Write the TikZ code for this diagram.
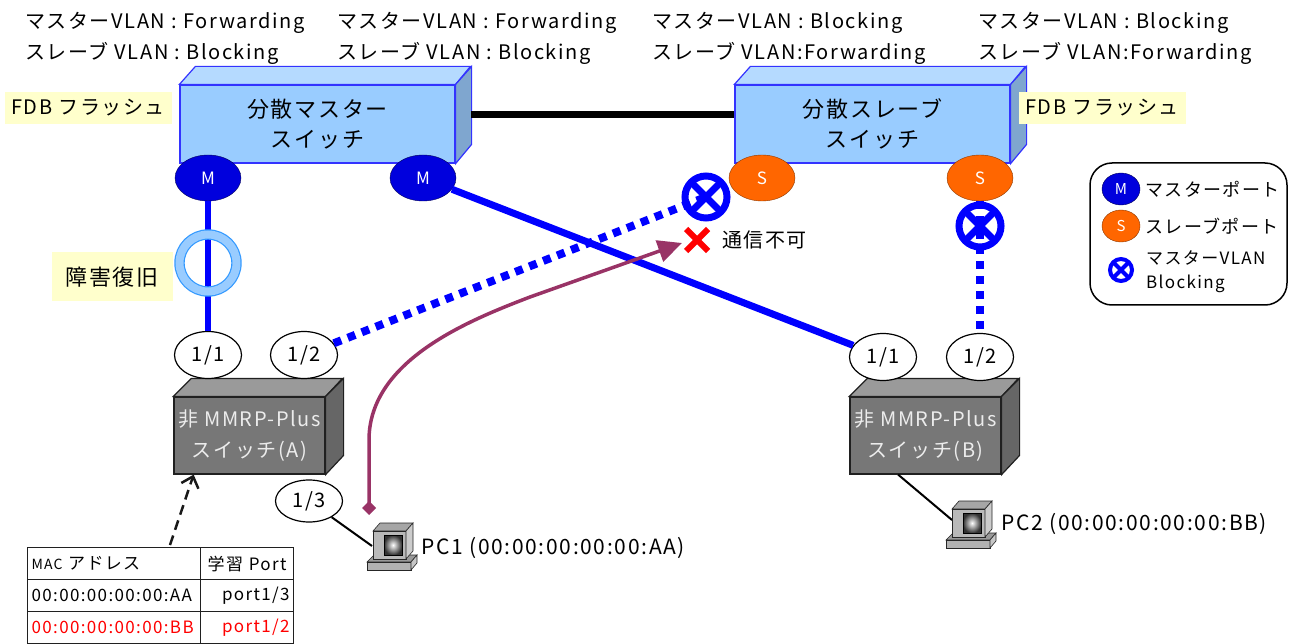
\documentclass[tikz,border=0pt]{standalone}
\usepackage{fontspec}
\setmainfont{Noto Sans CJK JP}[LetterSpace=8]
\usetikzlibrary{shapes.geometric,arrows.meta}

\definecolor{swfront}{HTML}{99CCFF}
\definecolor{swtop}{HTML}{B5DAFF}
\definecolor{swside}{HTML}{7FA6CF}
\definecolor{swline}{HTML}{3333FF}
\definecolor{gyfront}{HTML}{777777}
\definecolor{gytop}{HTML}{9A9A9A}
\definecolor{gyside}{HTML}{666666}
\definecolor{notebg}{HTML}{FFFFCC}
\definecolor{mblue}{HTML}{0000DD}
\definecolor{sorange}{HTML}{FF6600}
\definecolor{plum}{HTML}{993366}
\definecolor{ringblue}{HTML}{99CCFF}
\definecolor{ringedge}{HTML}{3399FF}

\tikzset{
  txt/.style={font=\fontsize{20}{31}\selectfont},
  mport/.style={ellipse,draw=blue!35!black,fill=mblue,text=white,minimum width=66pt,minimum height=46pt,inner sep=0pt,font=\fontsize{17}{17}\selectfont},
  sport/.style={ellipse,draw=sorange!55!black,fill=sorange,text=white,minimum width=66pt,minimum height=46pt,inner sep=0pt,font=\fontsize{17}{17}\selectfont},
  pnum/.style={ellipse,draw,fill=white,line width=1.2pt,minimum width=67pt,minimum height=47pt,inner sep=0pt,font=\fontsize{20}{20}\selectfont},
  blk/.style={circle,draw=blue,line width=#1,minimum size=42pt,inner sep=0pt,
    path picture={\draw[blue,line width=#1]
      (path picture bounding box.north west) -- (path picture bounding box.south east)
      (path picture bounding box.north east) -- (path picture bounding box.south west);}},
  blk/.default=7pt,
  note/.style={fill=notebg,inner sep=0pt,font=\fontsize{20}{20}\selectfont},
  swbox/.style={rectangle,draw=swline,fill=swfront,line width=1.2pt,minimum width=275pt,minimum height=78pt,align=center,font=\fontsize{22}{30}\selectfont},
  nmbox/.style={rectangle,draw=gray!25!black,fill=gyfront,text=gray!15,line width=1.2pt,minimum width=151pt,minimum height=77pt,align=center,font=\fontsize{20}{31}\selectfont},
  mline/.style={blue,line width=7pt},
  bline/.style={blue,line width=8pt,dash pattern=on 8pt off 7pt},
  cell/.style={draw=gray!25!black,line width=1.2pt,anchor=north west,minimum height=32pt,inner xsep=4pt,inner ysep=0pt,font=\fontsize{17}{17}\selectfont},
  pcbox/.pic={
    \filldraw[draw=gray!30!black,fill=gray!80,line width=0.6pt] (0,40) -- (7,33) -- (50,33) -- (44,40) -- cycle;
    \filldraw[draw=gray!30!black,fill=gray!60,line width=0.6pt] (0,40) rectangle (44,48);
    \filldraw[draw=gray!30!black,fill=gray!45,line width=0.6pt] (44,40) -- (50,33) -- (50,41) -- (44,48) -- cycle;
    \filldraw[draw=gray!30!black,fill=gray!70,line width=0.6pt] (6,9) -- (13,1) -- (46,1) -- (39,9) -- cycle;
    \filldraw[draw=gray!30!black,fill=gray!55,line width=0.6pt] (6,9) rectangle (39,37);
    \filldraw[draw=gray!30!black,fill=gray!40,line width=0.6pt] (39,9) -- (46,1) -- (46,29) -- (39,37) -- cycle;
    \draw[black,line width=0.8pt,inner color=white,outer color=gray!40!black] (17,13) rectangle (35,33);
  },
}

\begin{document}
\begin{tikzpicture}[x=1pt,y=-1pt]
\useasboundingbox (0,0) rectangle (1293,644);

\node[txt,anchor=west,align=left,inner sep=0pt] (st1) at (25,38) {マスターVLAN : Forwarding\\スレーブ VLAN : Blocking};
\node[txt,anchor=west,align=left,inner sep=0pt] (st2) at (337,38) {マスターVLAN : Forwarding\\スレーブ VLAN : Blocking};
\node[txt,anchor=west,align=left,inner sep=0pt] (st3) at (652,38) {マスターVLAN : Blocking\\スレーブ VLAN:Forwarding};
\node[txt,anchor=west,align=left,inner sep=0pt] (st4) at (978,38) {マスターVLAN : Blocking\\スレーブ VLAN:Forwarding};

% distributed master / slave
\node[swbox] (msw) at (317.5,124) {分散マスター\\スイッチ};
\filldraw[fill=swtop,draw=swline,line width=1.2pt] (msw.north west) -- ++(16,-18) -- ++(275,0) -- (msw.north east) -- cycle;
\filldraw[fill=swside,draw=swline,line width=1.2pt] (msw.north east) -- ++(16,-18) -- ++(0,78) -- (msw.south east) -- cycle;
\node[swbox] (ssw) at (872.5,124) {分散スレーブ\\スイッチ};
\filldraw[fill=swtop,draw=swline,line width=1.2pt] (ssw.north west) -- ++(16,-18) -- ++(275,0) -- (ssw.north east) -- cycle;
\filldraw[fill=swside,draw=swline,line width=1.2pt] (ssw.north east) -- ++(16,-18) -- ++(0,78) -- (ssw.south east) -- cycle;

\coordinate (mside) at (471,115);
\draw[line width=7pt] (mside) -- (mside -| ssw.west);

\node[note,minimum width=167pt,minimum height=32pt] (fdb1) at (88,108) {FDB フラッシュ};
\node[note,minimum width=167pt,minimum height=32pt] (fdb2) at (1102,108) {FDB フラッシュ};

\node[mport] (m1) at (208,178) {M};
\node[mport] (m2) at (423,178) {M};
\node[sport] (s1) at (762,178) {S};
\node[sport] (s2) at (980,178) {S};

% non MMRP-Plus switches
\node[nmbox] (swa) at (249.5,435.5) {非 MMRP-Plus\\スイッチ(A)};
\filldraw[fill=gytop,draw=gray!25!black,line width=1.2pt] (swa.north west) -- ++(18,-18) -- ++(151,0) -- (swa.north east) -- cycle;
\filldraw[fill=gyside,draw=gray!25!black,line width=1.2pt] (swa.north east) -- ++(18,-18) -- ++(0,77) -- (swa.south east) -- cycle;
\node[nmbox] (swb) at (925.5,435.5) {非 MMRP-Plus\\スイッチ(B)};
\filldraw[fill=gytop,draw=gray!25!black,line width=1.2pt] (swb.north west) -- ++(18,-18) -- ++(151,0) -- (swb.north east) -- cycle;
\filldraw[fill=gyside,draw=gray!25!black,line width=1.2pt] (swb.north east) -- ++(18,-18) -- ++(0,77) -- (swb.south east) -- cycle;

\node[pnum] (a11) at (208,355) {1/1};
\node[pnum] (a12) at (304,355) {1/2};
\node[pnum,minimum height=42pt] (a13) at (309,501) {1/3};
\node[pnum] (b11) at (883,357) {1/1};
\node[pnum] (b12) at (980,357) {1/2};

\coordinate (blkc) at (706,197);
\draw[mline,line width=6pt] (m1) -- (a11);
\draw[mline] (m2) -- (b11);
\draw[bline] (a12) -- (blkc);
\draw[bline] (s2) -- (b12);

\node[circle,draw=ringedge,double=ringblue,double distance=8pt,line width=1.2pt,minimum size=57pt,inner sep=0pt] (ring) at (208,263) {};
\node[note,minimum width=121pt,minimum height=49pt,font=\fontsize{22}{22}\selectfont] (fix) at (112,277) {障害復旧};

\node[blk] (blk1) at (blkc) {};
\node[blk] (blk2) at (980,226) {};

\coordinate (ng) at (697,240);
\draw[red,line width=6pt] (ng) ++(-11,-11) -- ++(22,22);
\draw[red,line width=6pt] (ng) ++(-11,11) -- ++(22,-22);
\node[anchor=west,inner sep=0pt,font=\fontsize{20}{20}\selectfont] (ngt) at (722,240) {通信不可};

% hosts
\coordinate (pc1) at (372,546);
\coordinate (pc2) at (952,520);
\draw[line width=2pt] (a13) -- (pc1);
\draw[line width=2pt] (swb.-125) -- (pc2);
\pic at (367,522) {pcbox};
\pic at (946,500) {pcbox};
\node[anchor=west,inner sep=0pt,font=\fontsize{21}{21}\selectfont] (pc1t) at (421,548) {PC1 (00:00:00:00:00:AA)};
\node[anchor=west,inner sep=0pt,font=\fontsize{21}{21}\selectfont] (pc2t) at (1001,524) {PC2 (00:00:00:00:00:BB)};

\coordinate (dstart) at (369,515);
\coordinate (dend) at (682,243);
\draw[plum,line width=3.5pt,{Diamond[length=14pt,width=14pt]}-{Triangle[length=24pt,width=22pt]}] (dstart) -- (369,440) .. controls (369,360) and (470,320) .. (530,297) -- (dend);

% FDB table of switch (A)
\node[cell,text width=165pt,align=left] (h1) at (27,547) {{\fontsize{14}{14}\selectfont MAC} アドレス};
\node[cell,text width=85pt,align=center] (h2) at (200,547) {学習 Port};
\node[cell,text width=165pt,align=left] (r1a) at (27,579) {00:00:00:00:00:AA};
\node[cell,text width=85pt,align=right] (r1b) at (200,579) {port1/3};
\node[cell,text width=165pt,align=left,text=red] (r2a) at (27,611) {00:00:00:00:00:BB};
\node[cell,text width=85pt,align=right,text=red] (r2b) at (200,611) {port1/2};

\coordinate (tbl) at (170,545);
\draw[gray!20!black,line width=2.5pt,dash pattern=on 10pt off 6pt,-{Straight Barb[length=10pt,width=18pt]}] (tbl) -- (swa.-145);

% legend
\node[draw,rounded corners=22pt,line width=1.5pt,minimum width=197pt,minimum height=142pt,inner sep=0pt] (lgd) at (1188.5,234) {};
\node[mport,minimum width=38pt,minimum height=32pt,font=\fontsize{15}{15}\selectfont] (lm) at (1121,189) {M};
\node[anchor=west,inner sep=0pt,font=\fontsize{18}{18}\selectfont] (lmt) at (1145,189) {マスターポート};
\node[sport,minimum width=38pt,minimum height=32pt,font=\fontsize{15}{15}\selectfont] (ls) at (1121,226) {S};
\node[anchor=west,inner sep=0pt,font=\fontsize{18}{18}\selectfont] (lst) at (1145,226) {スレーブポート};
\node[blk=4pt,minimum size=22pt] (lb) at (1121,270) {};
\node[anchor=west,align=left,inner sep=0pt,font=\fontsize{17}{24}\selectfont] (lbt) at (1146,272) {マスターVLAN\\Blocking};
\end{tikzpicture}
\end{document}
